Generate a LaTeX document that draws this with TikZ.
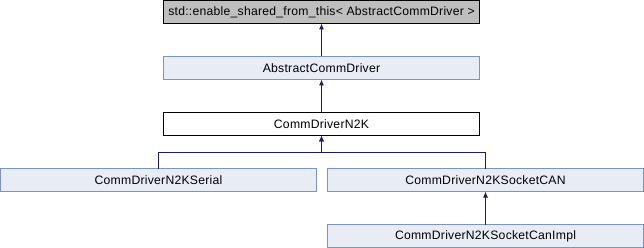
\documentclass[tikz,border=0pt]{standalone}
\usepackage{fontspec}
\setmainfont{Liberation Sans}[LetterSpace=2]
\usetikzlibrary{arrows.meta}
\definecolor{classfill}{HTML}{E8ECF5}
\definecolor{classedge}{HTML}{7A93CF}
\definecolor{basefill}{HTML}{BFBFBF}
\definecolor{inherit}{HTML}{191970}
\begin{document}
\begin{tikzpicture}[x=1pt,y=-1pt,
  cls/.style={draw=classedge,fill=classfill,line width=1pt,minimum width=316pt,
    minimum height=23pt,inner sep=0pt,outer sep=0pt,anchor=north west,
    font=\fontsize{12.2}{14}\selectfont},
  extbase/.style={cls,draw=black,fill=basefill},
  plain/.style={cls,draw=black,fill=white},
  isa/.style={draw=inherit,line width=1pt,-{Latex[length=6pt,width=5pt]}}]
  \useasboundingbox (0,0) rectangle (644,248);
  \node[extbase] (base) at (163.5,0.5) {std::enable\_shared\_from\_this< AbstractCommDriver >};
  \node[cls] (acd) at (163.5,56.5) {AbstractCommDriver};
  \node[plain] (n2k) at (163.5,112.5) {CommDriverN2K};
  \node[cls] (serial) at (0.5,168.5) {CommDriverN2KSerial};
  \node[cls] (sock) at (327.5,168.5) {CommDriverN2KSocketCAN};
  \node[cls] (impl) at (327.5,224.5) {CommDriverN2KSocketCanImpl};
  \draw[isa] (acd.north) -- (base.south);
  \draw[isa] (n2k.north) -- (acd.south);
  \draw[isa] (serial.north) -- ++(0,-15.5) -| (n2k.south);
  \draw[isa] (sock.north) -- ++(0,-15.5) -| (n2k.south);
  \draw[isa] (impl.north) -- (sock.south);
\end{tikzpicture}
\end{document}
